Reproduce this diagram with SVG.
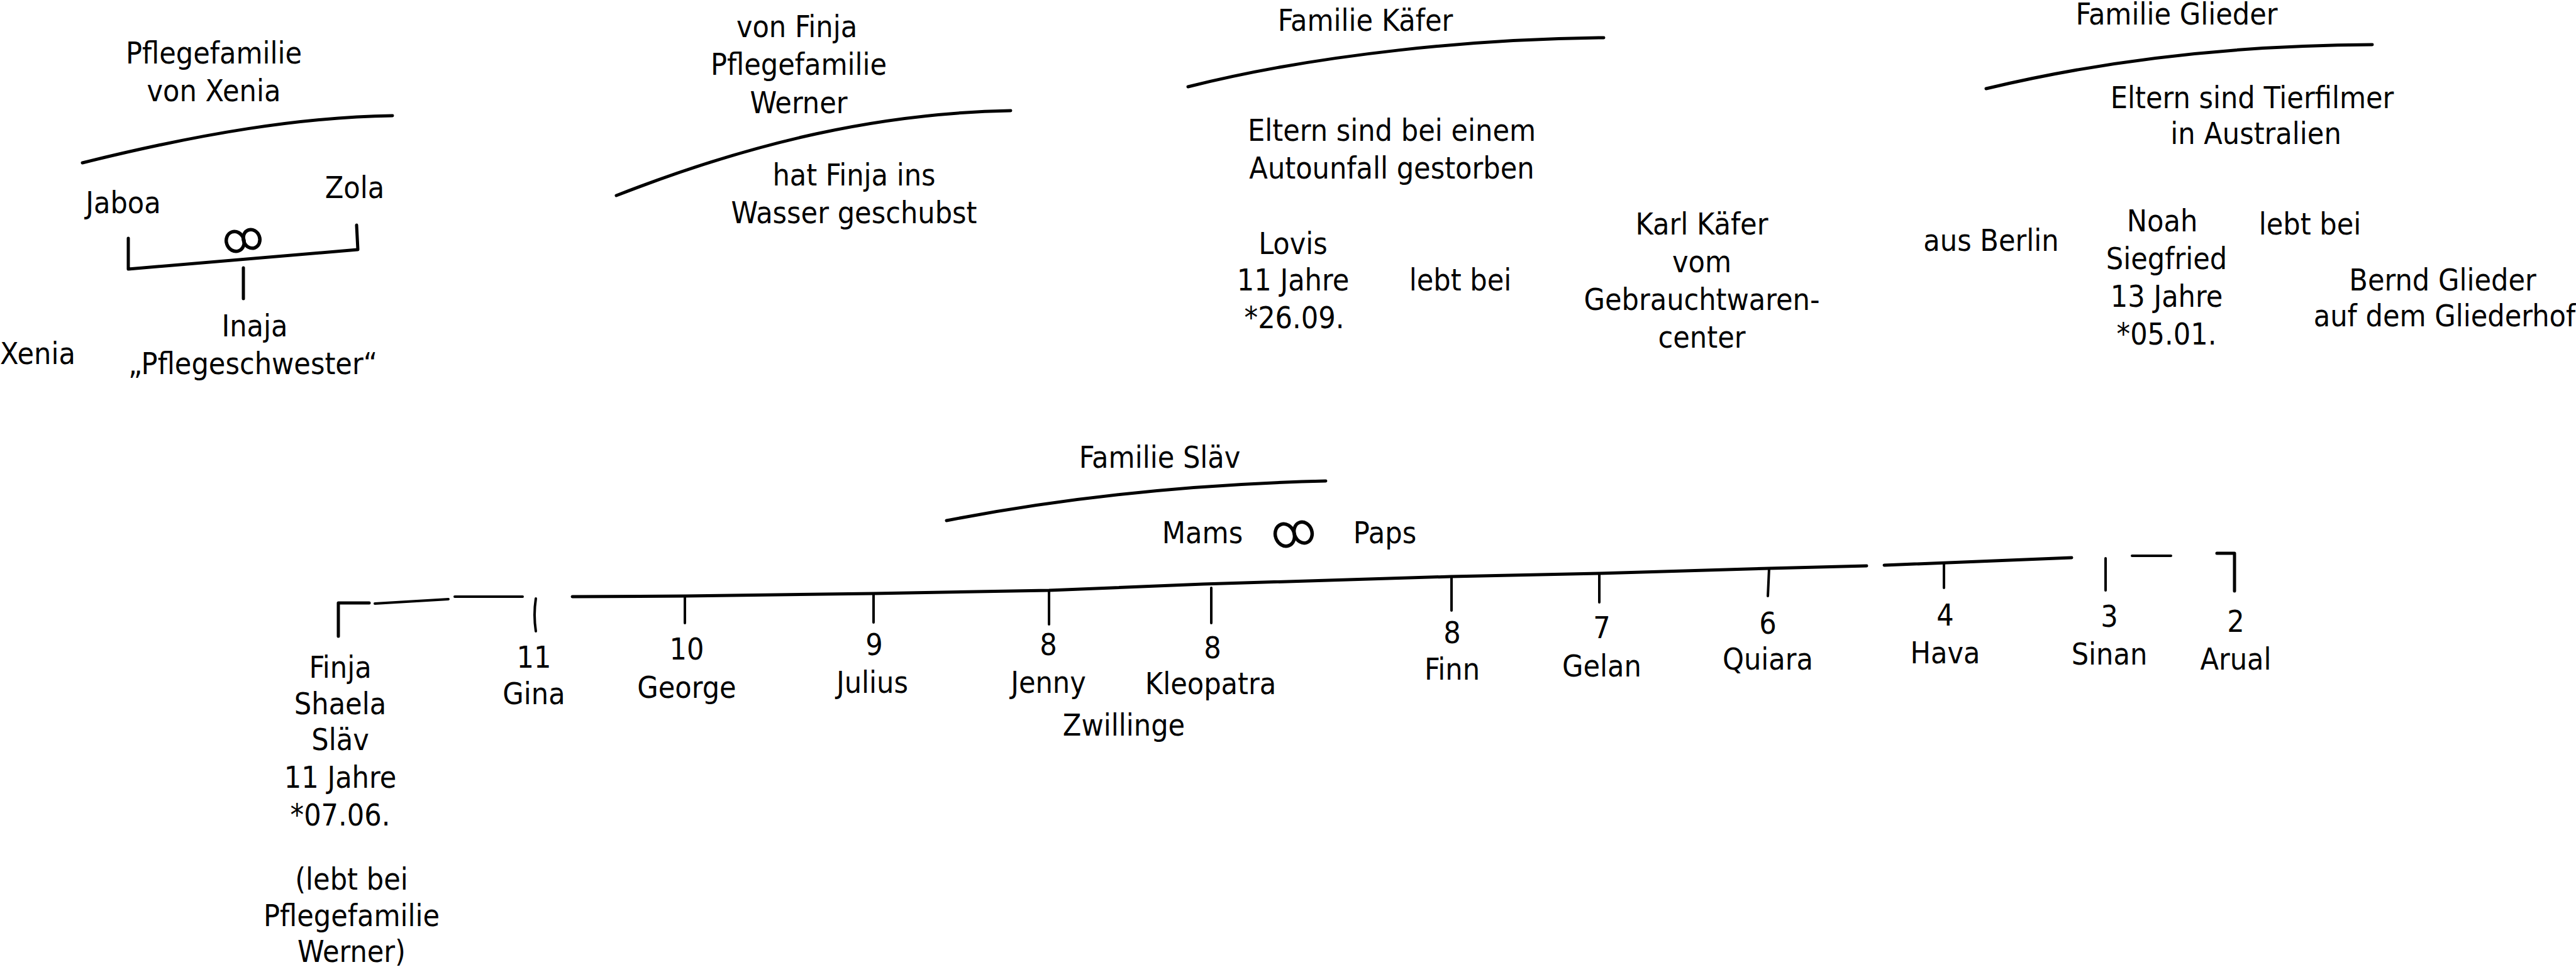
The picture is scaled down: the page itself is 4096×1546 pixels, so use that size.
<svg xmlns="http://www.w3.org/2000/svg" width="4096" height="1546" viewBox="0 0 4096 1546">
<style>
.t{font-family:'DejaVu Sans Condensed','DejaVu Sans','Liberation Sans',sans-serif;font-stretch:condensed;font-size:48px;text-anchor:middle;fill:#000}
.ln{fill:none;stroke:#000;stroke-width:5;stroke-linecap:round;stroke-linejoin:round}
.tk{fill:none;stroke:#000;stroke-width:4;stroke-linecap:round}
.inf{fill:none;stroke:#000;stroke-width:5.5}
</style>
<rect width="4096" height="1546" fill="#fff"/>
<g id="connectors">
  <path class="ln" d="M131,259 C320,212 480,186 624,184"/>
  <path class="ln" d="M204,379 L204,428 L569,397 L567,358"/>
  <path class="ln" d="M387,426 L387,475"/>
  <path class="ln" d="M980,311 C1200,225 1400,180 1607,176"/>
  <path class="ln" d="M1889,138 C2100,85 2350,62 2550,60"/>
  <path class="ln" d="M3158,141 C3350,95 3550,72 3772,71"/>
  <path class="ln" d="M1505,828 C1700,790 1900,770 2108,765"/>
  <path class="ln" d="M587,959 L538,959 L538,1012"/>
  <path class="tk" d="M596,960 L713,953 M723,949 L831,949"/>
  <path class="tk" d="M852,952 Q848,978 852,1004"/>
  <path class="ln" d="M910,949 L1089,948 L1389,944 L1668,939 L1913,929 L2308,917 L2543,912 L2813,904 L2968,900"/>
  <path class="ln" d="M2996,899 L3294,887"/>
  <path class="tk" d="M3390,884 L3452,884"/>
  <path class="ln" d="M3525,880 L3553,880 L3553,940"/>
  <path class="tk" d="M1089,948 L1089,991 M1389,944 L1389,990 M1668,939 L1668,993 M1926,935 L1926,991 M2308,917 L2308,971 M2543,912 L2543,958 M2813,904 L2811,948 M3091,896 L3091,935 M3348,888 L3348,939"/>
</g>
<g id="node-pflegefamilie-xenia">
  <text class="t" x="340" y="101">Pflegefamilie</text>
  <text class="t" x="340" y="161">von Xenia</text>
</g>
<g id="node-jaboa"><text class="t" x="196" y="339">Jaboa</text></g>
<g id="node-zola"><text class="t" x="564" y="315">Zola</text></g>
<g id="marriage-1">
  <ellipse class="inf" cx="374" cy="384" rx="14" ry="16" transform="rotate(-20 374 384)"/>
  <ellipse class="inf" cx="400" cy="380" rx="13" ry="15" transform="rotate(-20 400 380)"/>
</g>
<g id="node-inaja">
  <text class="t" x="405" y="535">Inaja</text>
  <text class="t" x="402" y="595">„Pflegeschwester“</text>
</g>
<g id="node-xenia"><text class="t" x="60" y="579">Xenia</text></g>
<g id="node-pflegefamilie-werner">
  <text class="t" x="1267" y="59">von Finja</text>
  <text class="t" x="1270" y="119">Pflegefamilie</text>
  <text class="t" x="1270" y="180">Werner</text>
</g>
<g id="note-werner">
  <text class="t" x="1358" y="295">hat Finja ins</text>
  <text class="t" x="1358" y="355">Wasser geschubst</text>
</g>
<g id="node-familie-kaefer"><text class="t" x="2171" y="49">Familie Käfer</text></g>
<g id="note-kaefer">
  <text class="t" x="2213" y="224">Eltern sind bei einem</text>
  <text class="t" x="2213" y="284">Autounfall gestorben</text>
</g>
<g id="node-lovis">
  <text class="t" x="2056" y="404">Lovis</text>
  <text class="t" x="2056" y="462">11 Jahre</text>
  <text class="t" x="2058" y="522">*26.09.</text>
</g>
<g id="label-lebt-bei-1"><text class="t" x="2322" y="462">lebt bei</text></g>
<g id="node-karl">
  <text class="t" x="2706" y="373">Karl Käfer</text>
  <text class="t" x="2706" y="433">vom</text>
  <text class="t" x="2706" y="493">Gebrauchtwaren-</text>
  <text class="t" x="2706" y="553">center</text>
</g>
<g id="node-familie-glieder"><text class="t" x="3461" y="39">Familie Glieder</text></g>
<g id="note-glieder">
  <text class="t" x="3581" y="172">Eltern sind Tierfilmer</text>
  <text class="t" x="3587" y="229">in Australien</text>
</g>
<g id="label-berlin"><text class="t" x="3166" y="399">aus Berlin</text></g>
<g id="node-noah">
  <text class="t" x="3438" y="368">Noah</text>
  <text class="t" x="3445" y="428">Siegfried</text>
  <text class="t" x="3445" y="488">13 Jahre</text>
  <text class="t" x="3445" y="548">*05.01.</text>
</g>
<g id="label-lebt-bei-2"><text class="t" x="3673" y="373">lebt bei</text></g>
<g id="node-bernd">
  <text class="t" x="3884" y="462">Bernd Glieder</text>
  <text class="t" x="3887" y="519">auf dem Gliederhof</text>
</g>
<g id="node-familie-slaev"><text class="t" x="1844" y="744">Familie Släv</text></g>
<g id="node-mams"><text class="t" x="1912" y="864">Mams</text></g>
<g id="marriage-2">
  <ellipse class="inf" cx="2043" cy="851" rx="15" ry="18" transform="rotate(-20 2043 851)"/>
  <ellipse class="inf" cx="2072" cy="847" rx="14" ry="17" transform="rotate(-20 2072 847)"/>
</g>
<g id="node-paps"><text class="t" x="2202" y="864">Paps</text></g>
<g id="node-finja">
  <text class="t" x="541" y="1078">Finja</text>
  <text class="t" x="541" y="1136">Shaela</text>
  <text class="t" x="541" y="1193">Släv</text>
  <text class="t" x="541" y="1253">11 Jahre</text>
  <text class="t" x="541" y="1313">*07.06.</text>
  <text class="t" x="559" y="1415">(lebt bei</text>
  <text class="t" x="559" y="1473">Pflegefamilie</text>
  <text class="t" x="559" y="1530">Werner)</text>
</g>
<g id="node-gina"><text class="t" x="849" y="1062">11</text><text class="t" x="849" y="1120">Gina</text></g>
<g id="node-george"><text class="t" x="1092" y="1049">10</text><text class="t" x="1092" y="1110">George</text></g>
<g id="node-julius"><text class="t" x="1390" y="1042">9</text><text class="t" x="1387" y="1102">Julius</text></g>
<g id="node-jenny"><text class="t" x="1667" y="1042">8</text><text class="t" x="1667" y="1102">Jenny</text></g>
<g id="node-kleopatra"><text class="t" x="1928" y="1047">8</text><text class="t" x="1925" y="1104">Kleopatra</text></g>
<g id="label-zwillinge"><text class="t" x="1787" y="1170">Zwillinge</text></g>
<g id="node-finn"><text class="t" x="2309" y="1023">8</text><text class="t" x="2309" y="1081">Finn</text></g>
<g id="node-gelan"><text class="t" x="2547" y="1015">7</text><text class="t" x="2547" y="1076">Gelan</text></g>
<g id="node-quiara"><text class="t" x="2811" y="1008">6</text><text class="t" x="2811" y="1065">Quiara</text></g>
<g id="node-hava"><text class="t" x="3093" y="995">4</text><text class="t" x="3093" y="1055">Hava</text></g>
<g id="node-sinan"><text class="t" x="3354" y="997">3</text><text class="t" x="3354" y="1057">Sinan</text></g>
<g id="node-arual"><text class="t" x="3555" y="1005">2</text><text class="t" x="3555" y="1065">Arual</text></g>
</svg>
